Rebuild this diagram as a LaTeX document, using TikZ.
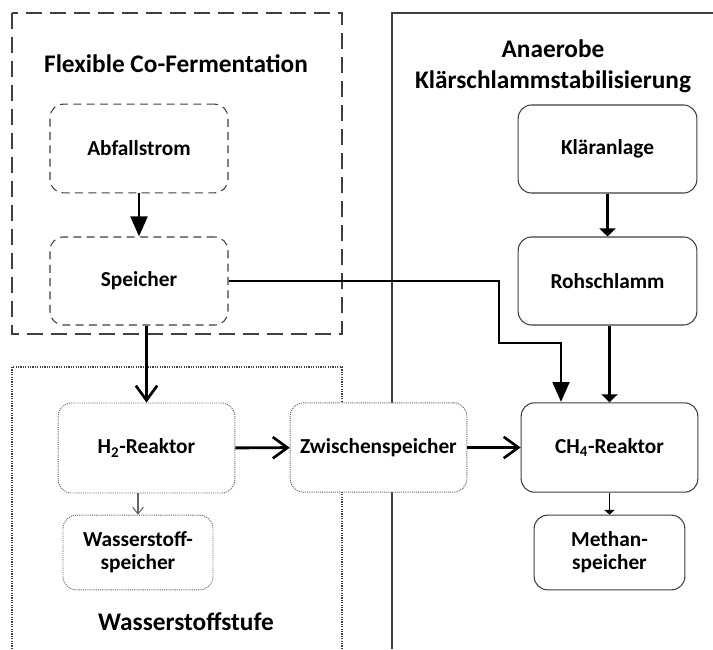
\documentclass[tikz,border=0pt]{standalone}
\usepackage{fontspec}
\setmainfont{Carlito}
\usepackage{tikz}
\usetikzlibrary{arrows.meta,positioning}

\begin{document}
\begin{tikzpicture}[
    x=0.75pt, y=-0.75pt,
    font=\bfseries\fontsize{16}{17.5}\selectfont,
    unit/.style={rectangle, rounded corners=10pt, draw=black!75, line width=0.8pt, fill=white, align=center, inner sep=2pt},
    flexunit/.style={unit, dash pattern=on 6pt off 4pt},
    h2unit/.style={unit, draw=black!60, dash pattern=on 0.8pt off 0.8pt, line width=0.7pt},
    grouptitle/.style={font=\bfseries\fontsize{19}{23}\selectfont, align=center},
    bigflow/.style={-{Triangle[length=15pt,width=12.5pt]}, line width=2.2pt},
    openflow/.style={-{Straight Barb[length=11pt,width=16pt,line width=2pt]}, line width=2.2pt},
    smallflow/.style={-{Triangle[length=6pt,width=12pt]}, line width=1.6pt}
]
\useasboundingbox (0,0) rectangle (713,649);

% Gruppen
\draw[black!75, line width=1pt, dash pattern=on 12pt off 6pt] (12,13) rectangle (342,334);
\node[grouptitle] (flextitle) at (176,64) {Flexible Co-Fermentation};
\draw[black!75, line width=0.9pt] (713,13) -- (392,13) -- (392,649);
\node[grouptitle] (anatitle) at (553,66) {Anaerobe\\Klärschlammstabilisierung};
\draw[black!75, line width=0.8pt, dash pattern=on 0.9pt off 0.9pt] (12,649) -- (12,367) -- (342,367) -- (342,649);
\node[grouptitle] (h2title) at (186,622) {Wasserstoffstufe};

% Einheiten
\node[flexunit, minimum width=133.5pt, minimum height=66.5pt] (abfall) at (139,148.5) {Abfallstrom};
\node[flexunit, minimum width=133.5pt, minimum height=66pt] (speicher) at (139,281) {Speicher};
\node[h2unit, minimum width=132.5pt, minimum height=67.5pt] (h2reaktor) at (146.5,448) {H\textsubscript{2}-Reaktor};
\node[h2unit, minimum width=112.5pt, minimum height=56pt] (h2speicher) at (138,552.5) {Wasserstoff-\\speicher};
\node[h2unit, minimum width=132.5pt, minimum height=67pt] (zwischen) at (378.5,447.5) {Zwischenspeicher};
\node[unit, minimum width=134pt, minimum height=66pt] (klaeranlage) at (607.5,149) {Kläranlage};
\node[unit, minimum width=134pt, minimum height=66pt] (rohschlamm) at (607.5,281) {Rohschlamm};
\node[unit, minimum width=132.5pt, minimum height=67pt] (ch4reaktor) at (609.5,447.5) {CH\textsubscript{4}-Reaktor};
\node[unit, minimum width=113pt, minimum height=56pt] (methan) at (609.5,552.5) {Methan-\\speicher};

% Stoffstroeme
\draw[bigflow] (abfall) -- (speicher);
\draw[openflow] (speicher.south -| h2reaktor.north) -- (h2reaktor.north);
\draw[openflow] (h2reaktor) -- (zwischen);
\draw[openflow] (zwischen) -- (ch4reaktor);
\draw[-{Straight Barb[length=5pt,width=8pt]}, black!60, line width=0.8pt] (h2reaktor.south -| h2speicher.north) -- (h2speicher.north);
\draw[bigflow] (speicher.east) -- (499,281) -- (499,343) -- (561,343) -- (561,402);
\draw[smallflow] (klaeranlage) -- (rohschlamm);
\draw[smallflow] (rohschlamm.south -| ch4reaktor.north) -- (ch4reaktor.north);
\draw[-{Triangle[length=3.5pt,width=7.5pt]}, line width=0.9pt] (ch4reaktor) -- (methan);

\end{tikzpicture}
\end{document}
